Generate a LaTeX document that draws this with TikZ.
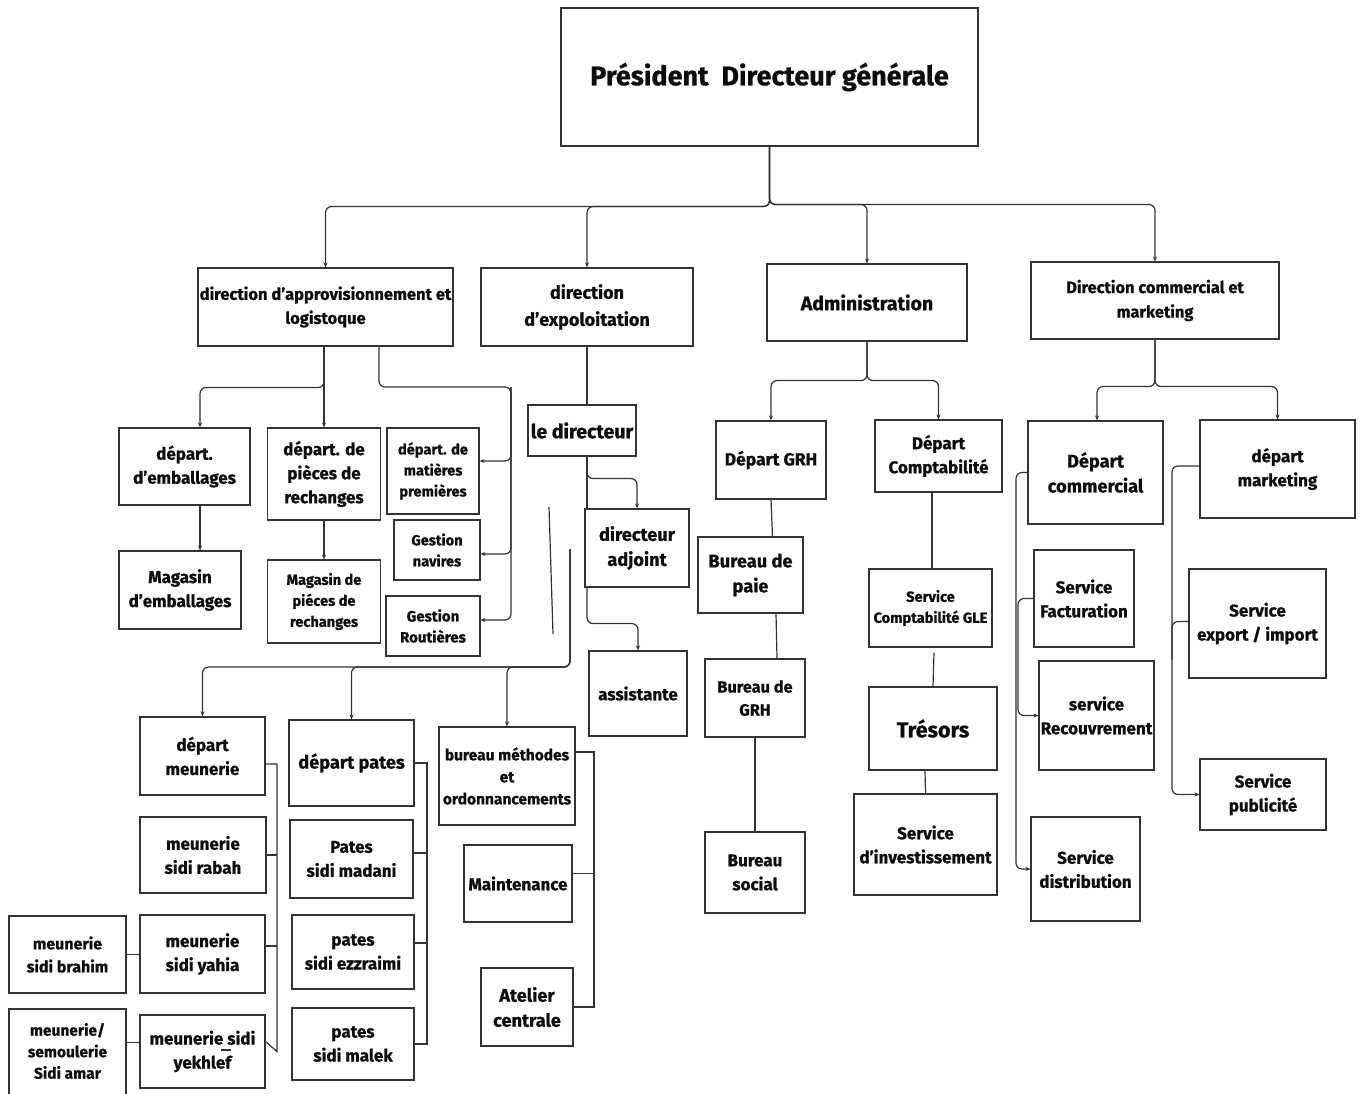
\documentclass[tikz,border=0pt]{standalone}
\usepackage{fontspec}
\setmainfont{Fira Sans}[BoldFeatures={FakeBold=0.8}]
\usetikzlibrary{arrows.meta}
\definecolor{edge}{HTML}{333333}
\definecolor{ink}{HTML}{0D0D0D}
\tikzset{
  box/.style={draw=edge, line width=1.1pt, align=center, inner sep=0pt, text=ink},
  fs/.style={font=\fontsize{#1}{#1*1.42}\selectfont\bfseries},
  fP/.style={font=\fontsize{27}{32}\selectfont\bfseries},
  fL/.style={font=\fontsize{19.5}{27}\selectfont\bfseries},
  fB/.style={font=\fontsize{18.2}{25}\selectfont\bfseries},
  fM/.style={font=\fontsize{17}{24}\selectfont\bfseries},
  fS/.style={font=\fontsize{14.6}{21}\selectfont\bfseries},
  link/.style={draw=edge, line width=1.2pt},
  arr/.style={link, rounded corners=6pt, -{Stealth[length=5pt,width=4pt]}},
  roundlink/.style={link, rounded corners=6pt},
}
\newcommand\bx[6]{\node[box,#6,minimum width=#4pt,minimum height=#5pt] (#1) at (#2,#3)}
\begin{document}
\begin{tikzpicture}[x=1pt,y=-1pt]
\useasboundingbox[fill=white] (0,0) rectangle (1362,1093);

% ---- top level
\bx{pdg}{769.5}{77}{417}{138}{fP} {Président \ Directeur générale};
\bx{appro}{325.5}{307}{255}{78}{font=\fontsize{16.5}{24}\selectfont\bfseries} {direction d’approvisionnement et\\logistoque};
\bx{explo}{587}{307}{212}{78}{font=\fontsize{18}{27}\selectfont\bfseries} {direction\\d’expoloitation};
\bx{admin}{867}{302.5}{200}{77}{fL} {Administration};
\bx{comm}{1155}{300.5}{248}{77}{font=\fontsize{16.4}{24.5}\selectfont\bfseries} {Direction commercial et\\marketing};

\draw[arr] (pdg.south) -- ++(0,60) -| (appro.north);
\draw[arr] (pdg.south) -- ++(0,60) -| (explo.north);
\draw[arr] (pdg.south) -- ++(0,58) -| (admin.north);
\draw[arr] (pdg.south) -- ++(0,58) -| (comm.north);

% ---- approvisionnement et logistique
\bx{emb}{184.5}{466.5}{131}{77}{fM} {départ.\\d’emballages};
\bx{pieces}{324}{474}{113}{92}{fM} {départ. de\\pièces de\\rechanges};
\bx{mat}{433}{471}{92}{86}{fS} {départ. de\\matières\\premières};
\bx{nav}{437}{550}{86}{60}{fS} {Gestion\\navires};
\bx{rout}{433}{626}{94}{60}{font=\fontsize{15}{21}\selectfont\bfseries} {Gestion\\Routières};
\bx{magemb}{180}{590}{122}{78}{fM} {Magasin\\d’emballages};
\bx{magpie}{324}{601.5}{113}{83}{fS} {Magasin de\\piéces de\\rechanges};

\coordinate (lbus) at (511,387);
\draw[arr] ([xshift=-1.5pt]appro.south) -- ++(0,41) -| ([xshift=15.5pt]emb.north);
\draw[arr] ([xshift=-1.5pt]appro.south) -- (pieces.north);
\draw[arr] ([xshift=53.5pt]appro.south) |- (lbus) |- ([yshift=10pt]mat.east);
\draw[arr] (lbus) |- ([yshift=-4pt]nav.east);
\draw[arr] (lbus) |- ([yshift=6pt]rout.east);
\draw[arr] ([xshift=15.5pt]emb.south) -- ([xshift=20pt]magemb.north);
\draw[arr] (pieces.south) -- (magpie.north);

% ---- exploitation
\bx{ledir}{582}{430.5}{108}{51}{fL} {le directeur};
\bx{adj}{637}{548}{104}{78}{fB} {directeur\\adjoint};
\bx{asst}{638}{693.5}{98}{85}{fM} {assistante};

\draw[link] (explo.south) -- (explo.south |- ledir.north);
\draw[link] (explo.south |- ledir.south) -- (explo.south |- adj.north);
\draw[arr] (explo.south |- ledir.south) -- ++(0,22) -| (adj.north);
\draw[arr] ([xshift=-50pt]adj.south) -- ++(0,36) -| (asst.north);
\draw[link] (549,507) -- (553,634);

% ---- meunerie
\bx{dmeun}{202.5}{756}{125}{78}{fM} {départ\\meunerie};
\bx{rabah}{203}{855}{126}{76}{fM} {meunerie\\sidi rabah};
\bx{yahia}{202.5}{954}{125}{78}{fM} {meunerie\\sidi yahia};
\bx{yekh}{202.5}{1051.5}{125}{73}{fM} {meunerie sidi\\yekhlef};
\bx{brahim}{67.5}{954.5}{117}{77}{font=\fontsize{16}{23}\selectfont\bfseries} {meunerie\\sidi brahim};
\bx{amar}{67.5}{1057}{117}{96}{fS} {};
\node[font=\fontsize{15.5}{21.5}\selectfont\bfseries, align=center, text=ink] (amartxt) at (67.5,1051) {meunerie/\\semoulerie\\Sidi amar};
\draw[link] (221,1050) -- (231,1050);

% ---- pates
\bx{dpates}{351.5}{763}{125}{86}{fB} {départ pates};
\bx{madani}{351.5}{859}{123}{78}{fM} {Pates\\sidi madani};
\bx{ezz}{353}{952}{122}{74}{fM} {pates\\sidi ezzraimi};
\bx{malek}{353}{1044}{122}{72}{fM} {pates\\sidi malek};

% ---- maintenance
\bx{bmeth}{507}{776}{136}{98}{font=\fontsize{15.5}{22}\selectfont\bfseries} {bureau méthodes\\et\\ordonnancements};
\bx{maint}{518}{883.5}{108}{77}{fM} {Maintenance};
\bx{atel}{527}{1007}{92}{78}{fB} {Atelier\\centrale};

\coordinate (bstart) at (570,549);
\coordinate (bbus) at (570,667);
\draw[arr] (bstart) -- (bbus) -| (dmeun.north);
\draw[arr] (bstart) -- (bbus) -| (dpates.north);
\draw[arr] (bstart) -- (bbus) -| (bmeth.north);

\coordinate (mbus) at (277,764);
\draw[link] ([yshift=-8pt]dmeun.east) -- (mbus) -- (mbus |- yekh.east) -- ([yshift=10pt]yekh.east);
\draw[link] (rabah.east) -- (mbus |- rabah.east);
\draw[link] ([yshift=8pt]yahia.east) -- ([yshift=8pt]yahia.east -| mbus);
\draw[link] (brahim.east) -- (brahim.east -| yahia.west);
\draw[link] ([yshift=9pt]yekh.west) -- ([yshift=9pt]yekh.west -| amar.east);

\coordinate (pbus) at (427,763);
\draw[link] (dpates.east) -- (pbus) -- (pbus |- malek.east) -- (malek.east);
\draw[link] ([yshift=6pt]madani.east) -- ([yshift=6pt]madani.east -| pbus);
\draw[link] ([yshift=9pt]ezz.east) -- ([yshift=9pt]ezz.east -| pbus);

\coordinate (ebus) at (594,752);
\draw[link] ([yshift=24pt]bmeth.east) -- (ebus) -- (ebus |- atel.east) -- (atel.east);
\draw[link] ([yshift=10pt]maint.east) -- ([yshift=10pt]maint.east -| ebus);

% ---- administration
\bx{dgrh}{771}{460}{110}{78}{font=\fontsize{17.5}{24}\selectfont\bfseries} {Départ GRH};
\bx{dcompt}{938.5}{456}{127}{72}{fM} {Départ\\Comptabilité};
\bx{paie}{750.5}{575}{105}{76}{fB} {Bureau de\\paie};
\bx{bgrh}{755}{698}{100}{78}{font=\fontsize{16.3}{23}\selectfont\bfseries} {Bureau de\\GRH};
\bx{social}{755}{872.5}{100}{81}{fM} {Bureau\\social};
\bx{gle}{930.5}{608}{123}{78}{fS} {Service\\Comptabilité GLE};
\bx{tres}{933}{728.5}{128}{83}{font=\fontsize{21.5}{27}\selectfont\bfseries} {Trésors};
\bx{invest}{925.5}{844.5}{143}{101}{fM} {Service\\d’investissement};

\draw[arr] (admin.south) -- ++(0,39) -| (dgrh.north);
\draw[arr] (admin.south) -- ++(0,39) -| (dcompt.north);
\draw[link] (dgrh.south) -- ([xshift=22pt]paie.north);
\draw[link] ([xshift=25.5pt]paie.south) -- ([xshift=22pt]bgrh.north);
\draw[link] (bgrh.south) -- (social.north);
\draw[link] ([xshift=-6.5pt]dcompt.south) -- ([xshift=1.5pt]gle.north);
\draw[link] ([xshift=3.5pt,yshift=-5pt]gle.south) -- (tres.north);
\draw[link] ([xshift=-8pt]tres.south) -- (invest.north);

% ---- commercial et marketing
\bx{dcom}{1095.5}{472.5}{135}{103}{fB} {Départ\\commercial};
\bx{dmark}{1277.5}{469}{155}{98}{fM} {départ\\marketing};
\bx{fact}{1084}{598.5}{100}{97}{fM} {Service\\Facturation};
\bx{recouv}{1096.5}{715.5}{115}{109}{fM} {service\\Recouvrement};
\bx{distr}{1085.5}{869}{109}{104}{fM} {Service\\distribution};
\bx{export}{1257.5}{623.5}{137}{109}{fM} {Service\\export / import};
\bx{pub}{1263}{794.5}{126}{71}{fM} {Service\\publicité};

\draw[arr] (comm.south) -- ++(0,47) -| ([xshift=1.5pt]dcom.north);
\draw[arr] (comm.south) -- ++(0,47) -| (dmark.north);
\coordinate (cbus) at (1016,869);
\coordinate (cbus2) at (1018,715.5);
\coordinate (kbus) at (1172,794.5);
\draw[arr] (dcom.west) -| (cbus) -- (distr.west);
\draw[arr] (fact.west) -| (cbus2) -- (recouv.west);
\draw[arr] ([yshift=3pt]dmark.west) -| (kbus) -- (pub.west);
\draw[roundlink] ([yshift=2pt]export.west) -| (1172,660);
\end{tikzpicture}
\end{document}
